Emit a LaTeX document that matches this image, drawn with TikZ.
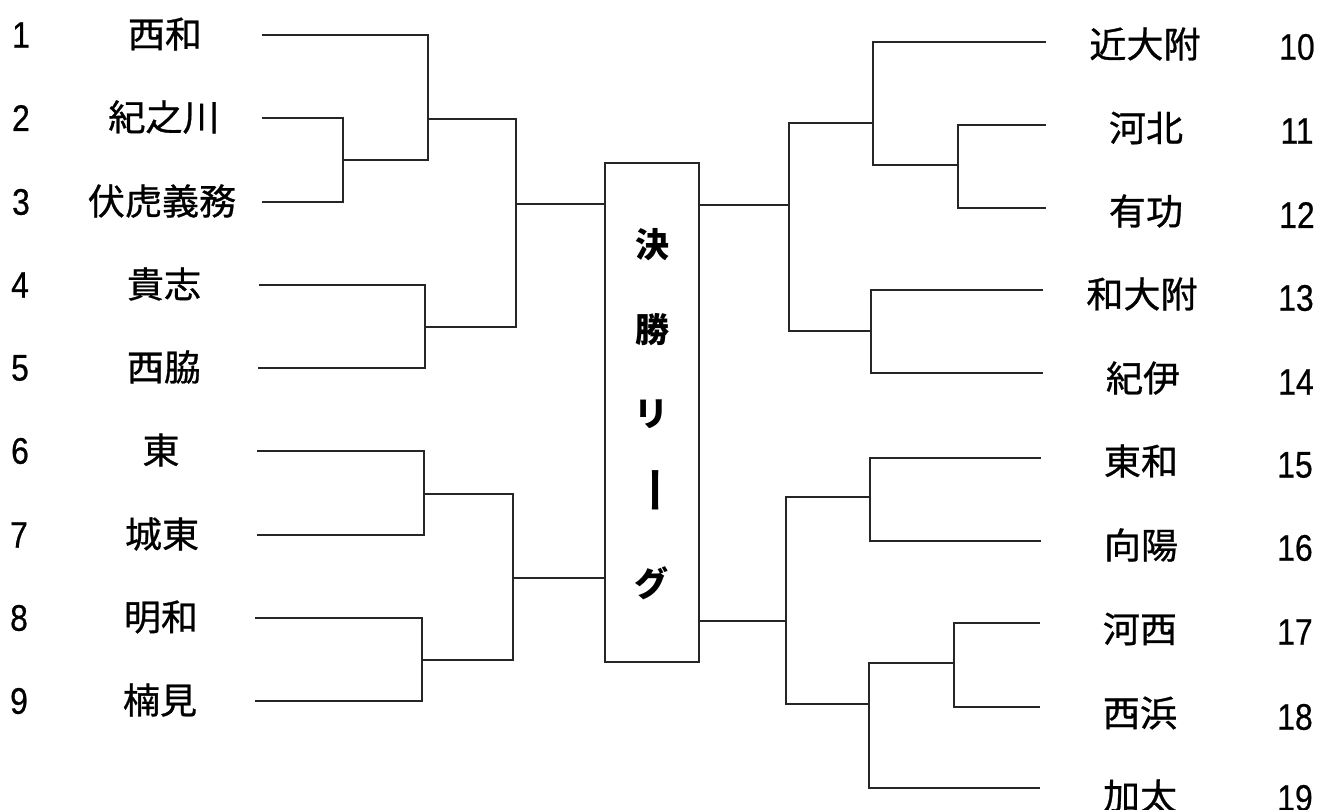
\documentclass[tikz,border=0pt]{standalone}
\usepackage{fontspec}
\newfontfamily\jp{Noto Sans CJK JP}[FakeStretch=1.03,FakeBold=0.8]
\newfontfamily\jpbold{Noto Sans CJK JP}[FakeStretch=1.0]
\newfontfamily\numf{Liberation Sans}[FakeStretch=0.86,FakeBold=0.6]
\begin{document}
\begin{tikzpicture}[x=1pt,y=-1pt,
  team/.style={inner sep=0pt,font=\jp\fontsize{36}{42}\selectfont},
  seed/.style={inner sep=0pt,font=\numf\fontsize{37}{42}\selectfont},
  boxchar/.style={inner sep=0pt,font=\jpbold\bfseries\fontsize{34}{40}\selectfont},
  bline/.style={line width=1.5pt,black!85},
  finalbox/.style={draw,line width=1.5pt,black!85,minimum width=94pt,minimum height=499pt,inner sep=0pt}]
\useasboundingbox (0,0) rectangle (1319,809);
\fill[white] (0,0) rectangle (1319,809);

% left seeds and teams
\node[seed] (n1) at (21,35) {1};
\node[seed] (n2) at (21,118) {2};
\node[seed] (n3) at (21,202) {3};
\node[seed] (n4) at (20,285) {4};
\node[seed] (n5) at (20,368) {5};
\node[seed] (n6) at (20,451) {6};
\node[seed] (n7) at (19,535) {7};
\node[seed] (n8) at (19,618) {8};
\node[seed] (n9) at (19,701) {9};
\node[team] (t1) at (165,34) {西和};
\node[team] (t2) at (164,117) {紀之川};
\node[team] (t3) at (162,201) {伏虎義務};
\node[team] (t4) at (164,284) {貴志};
\node[team] (t5) at (164,367) {西脇};
\node[team] (t6) at (161,450) {東};
\node[team] (t7) at (162,534) {城東};
\node[team] (t8) at (161,617) {明和};
\node[team] (t9) at (160,700) {楠見};

% right teams and seeds
\node[team] (t10) at (1145,44) {近大附};
\node[team] (t11) at (1146,128) {河北};
\node[team] (t12) at (1146,211) {有功};
\node[team] (t13) at (1142,294) {和大附};
\node[team] (t14) at (1143,378) {紀伊};
\node[team] (t15) at (1141,461) {東和};
\node[team] (t16) at (1141,545) {向陽};
\node[team] (t17) at (1140,629) {河西};
\node[team] (t18) at (1140,713) {西浜};
\node[team] (t19) at (1140,796) {加太};
\node[seed] (n10) at (1297,47) {10};
\node[seed] (n11) at (1297,131) {11};
\node[seed] (n12) at (1297,215) {12};
\node[seed] (n13) at (1296,298) {13};
\node[seed] (n14) at (1296,382) {14};
\node[seed] (n15) at (1295,465) {15};
\node[seed] (n16) at (1295,548) {16};
\node[seed] (n17) at (1295,632) {17};
\node[seed] (n18) at (1295,717) {18};
\node[seed] (n19) at (1295,798) {19};

% final league box
\node[finalbox] (final) at (652,412.5) {};
\node[boxchar] (c1) at (652,245) {決};
\node[boxchar] (c2) at (652,330) {勝};
\node[boxchar] (c3) at (651,414) {リ};
\node[boxchar,rotate=-90,xscale=1.4] (c4) at (651,490) {ー};
\node[boxchar] (c5) at (651,583) {グ};

% line starts (left)
\coordinate (L1) at (262,35);
\coordinate (L2) at (262,118);
\coordinate (L3) at (262,202);
\coordinate (L4) at (259,285);
\coordinate (L5) at (258,368);
\coordinate (L6) at (257,451);
\coordinate (L7) at (257,535);
\coordinate (L8) at (255,618);
\coordinate (L9) at (255,701);
% junctions (left)
\coordinate (m23) at (343,160);
\coordinate (v1) at (428,119);
\coordinate (m45) at (425,327);
\coordinate (s1) at (516,204);
\coordinate (m67) at (424,494);
\coordinate (m89) at (422,660);
\coordinate (s2) at (513,578);

\draw[bline] (L2) -| (m23) |- (L3);
\draw[bline] (L1) -| (v1) |- (m23);
\draw[bline] (L4) -| (m45) |- (L5);
\draw[bline] (v1) -| (s1) |- (m45);
\draw[bline] (s1) -- (final.west |- s1);
\draw[bline] (L6) -| (m67) |- (L7);
\draw[bline] (L8) -| (m89) |- (L9);
\draw[bline] (m67) -| (s2) |- (m89);
\draw[bline] (s2) -- (final.west |- s2);

% line ends (right)
\coordinate (R10) at (1046,42);
\coordinate (R11) at (1046,125);
\coordinate (R12) at (1046,208);
\coordinate (R13) at (1043,290);
\coordinate (R14) at (1043,373);
\coordinate (R15) at (1041,458);
\coordinate (R16) at (1041,541);
\coordinate (R17) at (1040,623);
\coordinate (R18) at (1040,707);
\coordinate (R19) at (1040,788);
% junctions (right)
\coordinate (m1112) at (958,165);
\coordinate (v10) at (873,123);
\coordinate (m1314) at (871,331);
\coordinate (s3) at (789,205);
\coordinate (m1516) at (870,497);
\coordinate (m1718) at (954,663);
\coordinate (v19) at (869,704);
\coordinate (s4) at (786,621);

\draw[bline] (R11) -| (m1112) |- (R12);
\draw[bline] (R10) -| (v10) |- (m1112);
\draw[bline] (R13) -| (m1314) |- (R14);
\draw[bline] (v10) -| (s3) |- (m1314);
\draw[bline] (s3) -- (final.east |- s3);
\draw[bline] (R15) -| (m1516) |- (R16);
\draw[bline] (R17) -| (m1718) |- (R18);
\draw[bline] (m1718) -| (v19) |- (R19);
\draw[bline] (m1516) -| (s4) |- (v19);
\draw[bline] (s4) -- (final.east |- s4);
\end{tikzpicture}
\end{document}
